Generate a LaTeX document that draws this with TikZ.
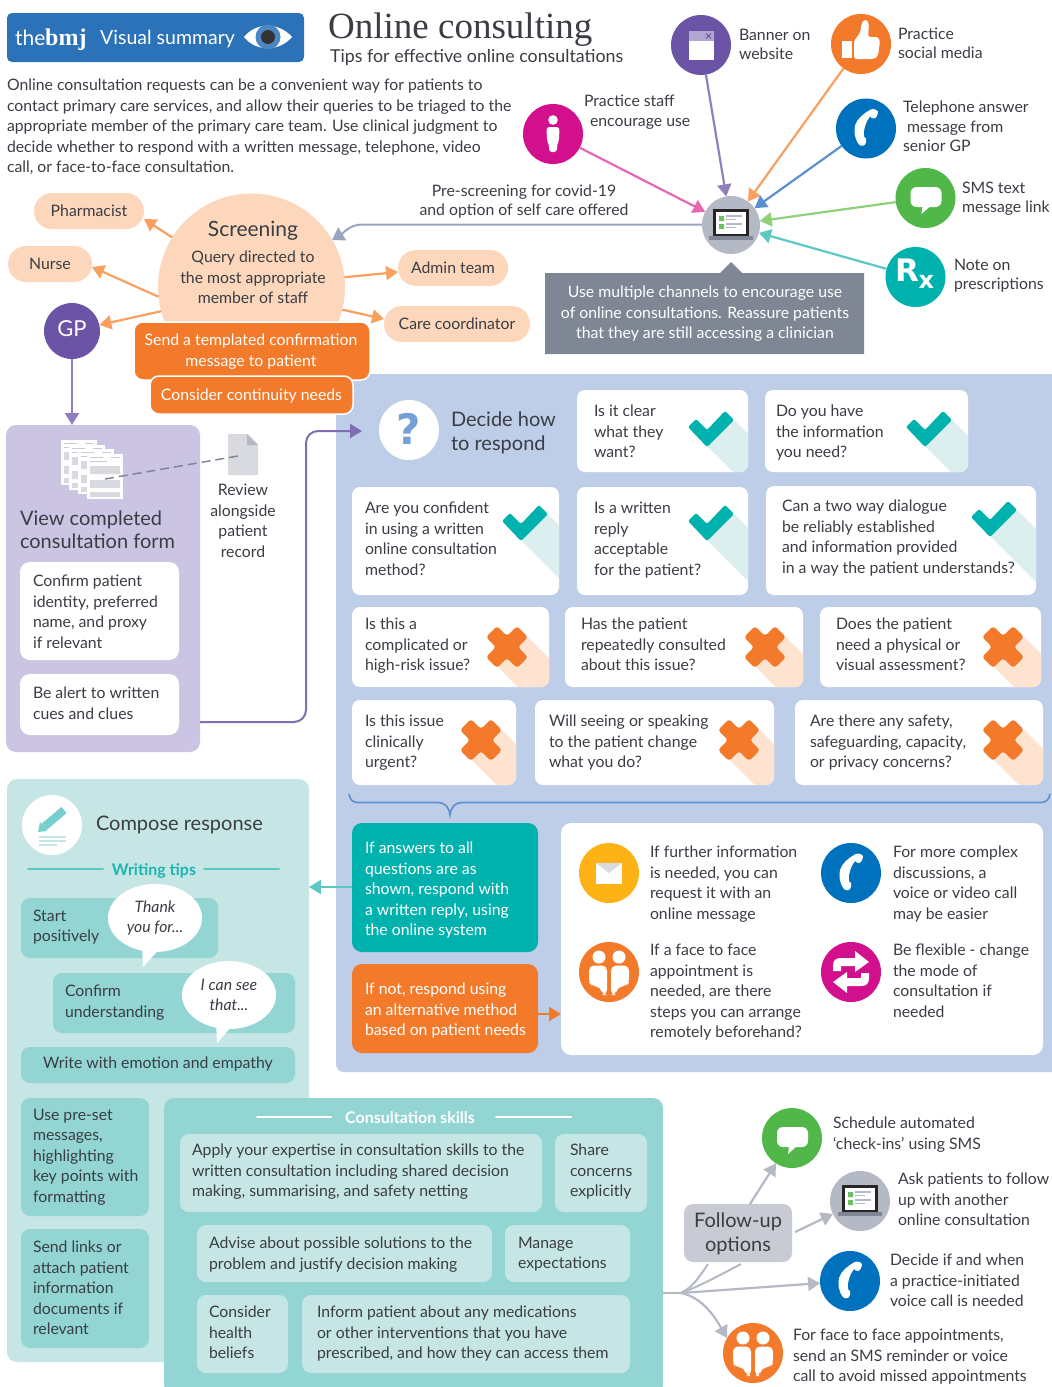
\documentclass[tikz,border=0pt]{standalone}
\usepackage{fontspec}
\setmainfont{Lato}
\newfontfamily\slab{Liberation Serif}
\newfontfamily\heavy{DejaVu Sans}
\usetikzlibrary{arrows.meta,shapes.geometric}
\definecolor{ink}{HTML}{3A3D44}
\definecolor{hdr}{HTML}{2B72B8}
\definecolor{peach}{HTML}{FDD7BB}
\definecolor{orng}{HTML}{F47A2B}
\definecolor{orngl}{HTML}{F9A05E}
\definecolor{purp}{HTML}{6B53A5}
\definecolor{purpl}{HTML}{8F7FBF}
\definecolor{purpb}{HTML}{CBC5E3}
\definecolor{magen}{HTML}{D20F8C}
\definecolor{pinkl}{HTML}{E668AE}
\definecolor{bluu}{HTML}{0071BC}
\definecolor{bluul}{HTML}{5B8FD0}
\definecolor{grn}{HTML}{50B748}
\definecolor{grnl}{HTML}{8FD07A}
\definecolor{teal2}{HTML}{00B2AE}
\definecolor{teall}{HTML}{5CC8C4}
\definecolor{tealm}{HTML}{92D5D3}
\definecolor{tealb}{HTML}{C6E6E5}
\definecolor{tealh}{HTML}{1CB5B0}
\definecolor{yell}{HTML}{FDB316}
\definecolor{panel}{HTML}{BECDE8}
\definecolor{grey1}{HTML}{B5B9C5}
\definecolor{grey2}{HTML}{7F8794}
\definecolor{grey3}{HTML}{C8CBD3}
\definecolor{grey4}{HTML}{D9DAE0}
\definecolor{slate}{HTML}{9AA5BF}
\definecolor{checkshadow}{HTML}{DCEFEE}
\definecolor{crossshadow}{HTML}{FDE3D0}
\tikzset{
 x=1pt,y=-1pt,
 tx/.style={inner sep=0pt,outer sep=0pt,align=left,anchor=north west,text=ink,
   font=\fontsize{15.8}{20.5}\selectfont,execute at begin node={\rule{0pt}{18pt}}},
 ctr/.style={align=center,anchor=north},
 wht/.style={text=white},
 big/.style={font=\fontsize{20}{24}\selectfont},
 dot/.style={circle,minimum size=60pt,inner sep=0pt,outer sep=0pt},
 bx/.style={rectangle,inner sep=0pt,outer sep=0pt},
 arr/.style={-{Triangle[length=12pt,width=14pt]},line width=2.2pt},
 ln/.style={line width=2pt,line cap=round},
 bub/.style={ellipse,fill=white,minimum width=94pt,minimum height=68pt,inner sep=0pt,align=center,
   text=ink,font=\fontsize{15.8}{20.5}\selectfont\itshape},
}
\newcommand\T[5]{\node[tx,#4] (#1) at (#2,{#3-11}) {#5};}
\newcommand\rbx[7]{\pgfmathsetmacro\bw{#4-#2}\pgfmathsetmacro\bh{#5-#3}%
 \node[bx,fill=#6,rounded corners=#7pt,minimum width=\bw pt,minimum height=\bh pt] (#1) at ({(#2+#4)/2},{(#3+#5)/2}) {};}
\newcommand\iconcheck[2]{\begin{scope}[shift={(#1,#2)}]\fill[teal2,rounded corners=2pt] (-23,-3) -- (-15,-11) -- (-4,0) -- (14,-19) -- (23,-10) -- (-4,17) -- cycle;\end{scope}}
\newcommand\iconcross[2]{\begin{scope}[shift={(#1,#2)}]\fill[orng,rounded corners=3pt] (-21,-10) -- (-10,-21) -- (0,-11) -- (10,-21) -- (21,-10) -- (11,0) -- (21,10) -- (10,21) -- (0,11) -- (-10,21) -- (-21,10) -- (-11,0) -- cycle;\end{scope}}
\newcommand\shadecheck[2]{\fill[checkshadow] (#1-4,#2+16) -- (#1+196,#2+216) -- (#1+223,#2+190) -- (#1+23,#2-10) -- cycle;}
\newcommand\shadecross[2]{\fill[crossshadow] (#1-9,#2+20) -- (#1+191,#2+220) -- (#1+221,#2+190) -- (#1+21,#2-10) -- cycle;}
\newcommand\qcard[8]{\rbx{#1}{#2}{#3}{#4}{#5}{white}{8}
 \begin{scope}\clip[rounded corners=8pt] (#2,#3) rectangle (#4,#5);\csname shade#8\endcsname{#6}{#7}\end{scope}
 \csname icon#8\endcsname{#6}{#7}}
\newcommand\iphone[2]{\begin{scope}[shift={(#1,#2)}]
 \fill[white] (3,-18) .. controls (5,-20) and (10,-20) .. (12,-17) .. controls (12,-14) and (10,-10) .. (8,-10) .. controls (6,-10) and (5,-11) .. (4,-12) .. controls (0,-7) and (-3,1) .. (-2,8) .. controls (0,9) and (1,11) .. (0,14) .. controls (-1,18) and (-5,18) .. (-7,16) .. controls (-12,10) and (-12,2) .. (-11,-3) .. controls (-9,-10) and (-2,-15) .. (3,-18) -- cycle;
 \end{scope}}
\newcommand\ipeople[2]{\begin{scope}[shift={(#1,#2)}]
 \fill[white] (-10,-15) circle (6.5) (10,-15) circle (6.5);
 \fill[white,rounded corners=5pt] (-20,-6.5) -- (-2,-6.5) -- (-2,23) -- (-7,23) -- (-8,15) -- (-18,14) -- (-20,10) -- cycle;
 \fill[white,rounded corners=5pt] (20,-6.5) -- (2,-6.5) -- (2,23) -- (7,23) -- (8,15) -- (18,14) -- (20,10) -- cycle;
 \end{scope}}
\newcommand\isms[2]{\begin{scope}[shift={(#1,#2)}]
 \fill[white,rounded corners=6pt] (-15,-11) rectangle (16,9);
 \fill[white] (-3,8) -- (-4,16) -- (5,8) -- cycle;
 \end{scope}}
\newcommand\ilaptop[2]{\begin{scope}[shift={(#1,#2)}]
 \fill[black!85] (-18,-16) rectangle (18,11);
 \fill[white] (-15,-13) rectangle (15,9);
 \fill[grey2] (-22,11) rectangle (22,15);
 \fill[grn!85!white] (-12,-9) rectangle (-7,-4) (-12,-1) rectangle (-7,4);
 \draw[grey1,line width=1.2pt] (-5,-9) -- (11,-9) (-5,-5.5) -- (5,-5.5) (-5,-1) -- (11,-1) (-5,2.5) -- (5,2.5);
 \end{scope}}
\newcommand\iswaparrow{\fill[white] (-18,-1) -- (-18,-6) .. controls (-18,-12) and (-15,-14) .. (-10,-14) -- (4,-14) -- (4,-21) -- (18,-10) -- (4,0) -- (4,-6) -- (-10,-6) -- (-10,-1) -- cycle;}
\begin{document}
\begin{tikzpicture}
\useasboundingbox (0,0) rectangle (1052,1387);
\fill[white] (0,0) rectangle (1052,1387);

% header
\rbx{hdrbox}{7}{13}{304}{62}{hdr}{5}
\node[inner sep=0pt,anchor=base west,text=white,font=\fontsize{21}{21}\selectfont] (hthe) at (15,45) {the};
\node[inner sep=0pt,anchor=base west,text=white,font=\slab\bfseries\fontsize{24}{24}\selectfont] (hbmj) at (45,45) {bmj};
\node[inner sep=0pt,anchor=base west,text=white,font=\fontsize{19.5}{20}\selectfont] (hvis) at (100,44) {Visual summary};
\fill[white] (244,37) .. controls (256,22) and (279,22) .. (292,37) .. controls (279,52) and (256,52) .. (244,37) -- cycle;
\fill[hdr!85!white] (268,37) circle (12.5);
\fill[black!80] (268,37) circle (7);
\node[inner sep=0pt,anchor=base west,text=ink,font=\slab\fontsize{37}{37}\selectfont] (title) at (328,38) {Online consulting};
\node[inner sep=0pt,anchor=base west,text=ink,font=\fontsize{17.8}{20}\selectfont] (subtitle) at (330,62) {Tips for effective online consultations};
\T{intro}{7}{90}{}{Online consultation requests can be a convenient way for patients to\\contact primary care services, and allow their queries to be triaged to the\\appropriate member of the primary care team. Use clinical judgment to\\decide whether to respond with a written message, telephone, video\\call, or face-to-face consultation.}

% panels
\rbx{decide}{336}{374}{1060}{1072}{panel}{8}
\rbx{view}{6}{425}{200}{752}{purpb}{10}
\rbx{compose}{7}{779}{309}{1362}{tealb}{10}
\rbx{skills}{164}{1098}{663}{1395}{tealm}{10}

% screening
\begin{scope}
\clip (140,180) rectangle (360,325);
\node[circle,fill=peach,minimum size=187pt,inner sep=0pt,outer sep=0pt] (screen) at (251.5,287) {};
\end{scope}
\T{tscr}{253}{229}{ctr,font=\fontsize{21}{24}\selectfont}{Screening}
\T{tscr2}{253}{262}{ctr}{Query directed to\\the most appropriate\\member of staff}
\rbx{ph}{34}{193}{144}{229}{peach}{18}
\T{tph}{89}{209}{ctr}{Pharmacist}
\rbx{nu}{8}{246}{92}{282}{peach}{18}
\T{tnu}{50}{262.5}{ctr}{Nurse}
\rbx{ad}{398}{250}{508}{286}{peach}{18}
\T{tad}{453}{266}{ctr}{Admin team}
\rbx{ca}{384}{306}{530}{342}{peach}{18}
\T{tca}{457}{322.5}{ctr}{Care coordinator}
\node[dot,fill=purp,minimum size=56pt] (gp) at (72,331) {};
\node[inner sep=0pt,text=white,font=\fontsize{22}{22}\selectfont] (tgp) at (72,329) {GP};
\draw[arr,orngl] (screen.148) -- ([yshift=-8pt]ph.east);
\draw[arr,orngl] (screen.186) -- ([yshift=-3pt]nu.east);
\draw[arr,orngl] (screen.195) -- (gp);
\draw[arr,orngl] (screen.6) -- ([yshift=-4pt]ad.west);
\draw[arr,orngl] (screen.-14) -- ([yshift=5pt]ca.west);
\draw[arr,purpl] (gp) -- (gp |- view.north);

\node[bx,fill=orng,draw=white,line width=1.5pt,rounded corners=9pt,minimum width=236pt,minimum height=58pt] (send) at (252,351) {};
\T{tsend}{251}{345}{ctr,wht}{Send a templated confirmation\\message to patient}
\node[bx,fill=orng,draw=white,line width=1.5pt,rounded corners=9pt,minimum width=203pt,minimum height=38pt] (cont) at (251.5,395) {};
\T{tcont}{251.5}{393}{ctr,wht}{Consider continuity needs}

% channels
\node[dot,minimum size=58pt,fill=grey1] (lap) at (731,225) {};
\draw[ln,slate,line cap=butt,-{Triangle[length=12pt,width=15pt]}] (lap.west |- 0,224.5) -- (362,224.5) .. controls (350,224.5) and (342,234) .. (332,240);
\ilaptop{731}{225}
\node[dot,fill=purp] (ban) at (701,45) {};
\fill[white] (688.5,31) rectangle (713.5,60);
\fill[purpl!70!white] (688.5,31) rectangle (713.5,41);
\draw[purp,line width=1pt] (706,33.5) -- (711,38.5) (711,33.5) -- (706,38.5);
\node[dot,fill=orng] (thu) at (861,44) {};
\begin{scope}[shift={(861,44)}]
 \fill[white] (-19,-3) rectangle (-9,14);
 \fill[white,rounded corners=2.5pt] (-7,-3) -- (-1,-11) -- (1,-22) -- (5,-25) -- (8,-20) -- (7,-7) -- (17,-7) -- (19,-3) -- (17,12) -- (13,15) -- (-7,15) -- cycle;
\end{scope}
\node[dot,fill=magen] (sta) at (553,134) {};
\begin{scope}[shift={(553,134)}]
 \fill[white] (0,-14) circle (4.8);
 \fill[white,rounded corners=3pt] (-6.5,-7) -- (6.5,-7) -- (6,7) -- (4,10) -- (4,18) -- (-4,18) -- (-4,10) -- (-6,7) -- cycle;
\end{scope}
\node[dot,fill=bluu] (pho) at (866,128.5) {};
\iphone{866}{128.5}
\node[dot,fill=grn] (sms) at (925.5,198) {};
\isms{925.5}{198}
\node[dot,fill=teal2] (rxc) at (915.5,277) {};
\node[inner sep=0pt,text=white,font=\heavy\bfseries\fontsize{31}{31}\selectfont] (rxt) at (915,274) {R\kern-1pt\raisebox{-7pt}{\fontsize{24}{24}\selectfont x}};
\draw[arr,purpl] (ban) -- (lap);
\draw[arr,orngl] (thu) -- (lap);
\draw[arr,pinkl] (sta) -- (lap);
\draw[arr,bluul] (pho) -- (lap);
\draw[arr,grnl] (sms) -- (lap);
\draw[arr,teall] (rxc) -- (lap);
\T{tpre}{524}{196}{ctr,font=\fontsize{15.8}{19}\selectfont}{Pre-screening for covid-19\\and option of self care offered}
\T{tban}{739}{40}{font=\fontsize{15.8}{19}\selectfont}{Banner on\\website}
\T{tthu}{898}{39}{font=\fontsize{15.8}{19}\selectfont}{Practice\\social media}
\T{tsta}{584}{106}{font=\fontsize{15.8}{20}\selectfont}{Practice staff\\\hspace*{6pt}encourage use}
\T{tpho}{903}{112}{font=\fontsize{15.8}{19.5}\selectfont}{Telephone answer\\\hspace*{4pt}message from\\senior GP}
\T{tsms}{962}{193}{font=\fontsize{15.8}{19}\selectfont}{SMS text\\message link}
\T{trx}{954}{270}{font=\fontsize{15.8}{19}\selectfont}{Note on\\prescriptions}
\fill[grey2] (545,273) -- (720,273) -- (731,262) -- (742,273) -- (864,273) -- (864,354) -- (545,354) -- cycle;
\T{tuse}{705}{297}{ctr,wht}{Use multiple channels to encourage use\\of online consultations. Reassure patients\\that they are still accessing a clinician}

% view
\foreach \dx/\dy in {0/0,8/5,17/9,26/14}{
 \begin{scope}[shift={(61+\dx,440+\dy)}]
 \fill[white] (0,0) rectangle (36,45);
 \fill[grey4] (3,12) rectangle (33,20) (3,26) rectangle (33,34) (3,38) rectangle (33,43);
 \draw[grey3,line width=1pt] (3,3) -- (16,3) (24,3) -- (33,3) (3,7) -- (20,7);
 \end{scope}}
\T{tview}{20}{522}{font=\fontsize{20}{23}\selectfont}{View completed\\consultation form}
\rbx{v1}{20}{562}{179}{660}{white}{10}
\T{tv1}{33}{586}{}{Confirm patient\\identity, preferred\\name, and proxy\\if relevant}
\rbx{v2}{20}{674}{179}{735}{white}{10}
\T{tv2}{33}{698}{}{Be alert to written\\cues and clues}
\fill[grey4] (228,434) -- (248,434) -- (258,444) -- (258,475) -- (228,475) -- cycle;
\fill[grey1] (247,434) -- (258,445) -- (247,445) -- cycle;
\coordinate (fm) at (105,479);
\coordinate (rc) at (238,456);
\draw[grey2,line width=1.5pt,dash pattern=on 9pt off 5pt] (fm) -- (rc);
\T{trev}{243}{495}{ctr}{Review\\alongside\\patient\\record}
\draw[line width=2pt,purp!85!white,rounded corners=12pt,-{Triangle[length=12pt,width=14pt]}] (view.east |- 0,722) -- (306,722) -- (306,431) -- (362,431);

% decide
\node[dot,fill=white] (qc) at (409,430) {};
\node[inner sep=0pt,text=bluul!85!white,font=\heavy\bfseries\fontsize{42}{42}\selectfont] (qm) at (409,429) {?};
\T{tdec}{451}{423}{big}{Decide how\\to respond}
\qcard{c1}{577}{390}{748}{472}{711}{430}{check}
\T{tc1}{594}{416}{}{Is it clear\\what they\\want?}
\qcard{c2}{765}{390}{968}{472}{929}{430}{check}
\T{tc2}{776}{416}{}{Do you have\\the information\\you need?}
\qcard{c3}{352}{487}{559}{595}{525}{524}{check}
\T{tc3}{365}{513}{}{Are you confident\\in using a written\\online consultation\\method?}
\qcard{c4}{577}{487}{748}{595}{711}{524}{check}
\T{tc4}{594}{513}{}{Is a written\\reply\\acceptable\\for the patient?}
\qcard{c5}{766}{486}{1036}{595}{994}{520}{check}
\T{tc5}{782}{511}{}{Can a two way dialogue\\be reliably established\\and information provided\\in a way the patient understands?}
\qcard{c6}{352}{607}{549}{687}{507}{647}{cross}
\T{tc6}{365}{629}{}{Is this a\\complicated or\\high-risk issue?}
\qcard{c7}{565}{607}{803}{687}{765}{647}{cross}
\T{tc7}{581}{629}{}{Has the patient\\repeatedly consulted\\about this issue?}
\qcard{c8}{820}{607}{1041}{687}{1003}{647}{cross}
\T{tc8}{836}{629}{}{Does the patient\\need a physical or\\visual assessment?}
\qcard{c9}{352}{700}{516}{785}{481}{740}{cross}
\T{tc9}{365}{726}{}{Is this issue\\clinically\\urgent?}
\qcard{c10}{535}{700}{774}{785}{739}{740}{cross}
\T{tc10}{549}{726}{}{Will seeing or speaking\\to the patient change\\what you do?}
\qcard{c11}{795}{700}{1043}{785}{1003}{740}{cross}
\T{tc11}{810}{726}{}{Are there any safety,\\safeguarding, capacity,\\or privacy concerns?}
\draw[bluul,line width=1.6pt] (349,794) .. controls (350,800) and (353,802.5) .. (358,802.5) -- (438,802.5) .. controls (445,802.5) and (449,807) .. (450,815) .. controls (451,807) and (455,802.5) .. (462,802.5) -- (1040,802.5) .. controls (1046,802.5) and (1049,800) .. (1050,794);

\rbx{ta}{352}{823}{538}{952}{teal2}{10}
\T{tta}{365}{853}{wht}{If answers to all\\questions are as\\shown, respond with\\a written reply, using\\the online system}
\rbx{ob}{352}{964}{538}{1053}{orng}{10}
\T{tob}{365}{994}{wht}{If not, respond using\\an alternative method\\based on patient needs}
\rbx{wp}{561}{823}{1043}{1055}{white}{10}
\draw[arr,orng] (ob.east |- 0,1014) -- (wp.west |- 0,1014);
\draw[arr,teall] (ta.west |- 0,887) -- (compose.east |- 0,887);
\node[dot,fill=yell] (ye) at (609,873) {};
\fill[white] (596,863) rectangle (622,884);
\fill[grey4] (596,863) -- (622,863) -- (609,873) -- cycle;
\node[dot,fill=bluu] (pb) at (851,873) {};
\iphone{851}{873}
\node[dot,fill=orng] (pe) at (609,972) {};
\ipeople{609}{972}
\node[dot,fill=magen] (sw) at (851,972) {};
\begin{scope}[shift={(851,972)}]
 \iswaparrow
 \begin{scope}[rotate=180]\iswaparrow\end{scope}
\end{scope}
\T{tw1}{650}{857}{}{If further information\\is needed, you can\\request it with an\\online message}
\T{tw2}{893}{857}{}{For more complex\\discussions, a\\voice or video call\\may be easier}
\T{tw3}{650}{955}{}{If a face to face\\appointment is\\needed, are there\\steps you can arrange\\remotely beforehand?}
\T{tw4}{893}{955}{}{Be flexible - change\\the mode of\\consultation if\\needed}

% compose
\node[dot,fill=white] (pc) at (52,825) {};
\begin{scope}[shift={(52,825)}]
 \draw[teall!85!white,line width=8pt] (-8,2) -- (12,-15);
 \fill[teall!85!white] (-14,7) -- (-12,-3) -- (-5,6) -- cycle;
 \draw[tealb,line width=1.5pt] (-13,12) -- (14,12) (-13,16) -- (14,16) (-13,20) -- (5,20);
\end{scope}
\T{tcomp}{96}{823}{big}{Compose response}
\T{twt}{154}{868.5}{ctr,text=tealh,font=\bfseries\fontsize{16}{20}\selectfont}{Writing tips}
\coordinate (wa) at (28,869); \coordinate (wb) at (103,869); \coordinate (wc) at (204,869); \coordinate (wd) at (279,869);
\draw[ln,teall] (wa) -- (wb) (wc) -- (wd);
\rbx{b1}{21}{898}{218}{958}{tealm}{9}
\T{tb1}{33}{921}{}{Start\\positively}
\fill[white] (142,945) -- (143,967) -- (163,945) -- cycle;
\node[bub] (bu1) at (155,918) {Thank\\you for...};
\rbx{b2}{53}{973}{295}{1033}{tealm}{9}
\T{tb2}{65}{996}{}{Confirm\\understanding}
\fill[white] (216,1020) -- (217,1043) -- (237,1020) -- cycle;
\node[bub] (bu2) at (229,995) {I can see\\that...};
\rbx{b3}{21}{1047}{295}{1083}{tealm}{9}
\T{tb3}{158}{1061}{ctr}{Write with emotion and empathy}
\rbx{b4}{21}{1098}{149}{1216}{tealm}{9}
\T{tb4}{33}{1120}{}{Use pre-set\\messages,\\highlighting\\key points with\\formatting}
\rbx{b5}{21}{1229}{149}{1348}{tealm}{9}
\T{tb5}{33}{1252}{}{Send links or\\attach patient\\information\\documents if\\relevant}

% skills
\T{tsk}{410}{1116.5}{ctr,wht,font=\bfseries\fontsize{16}{20}\selectfont}{Consultation skills}
\coordinate (sa) at (257,1117); \coordinate (sb) at (331,1117); \coordinate (sc) at (496,1117); \coordinate (sd) at (571,1117);
\draw[ln,white] (sa) -- (sb) (sc) -- (sd);
\rbx{s1}{180}{1134}{542}{1212}{tealb}{9}
\T{ts1}{192}{1155}{}{Apply your expertise in consultation skills to the\\written consultation including shared decision\\making, summarising, and safety netting}
\rbx{s2}{555}{1134}{647}{1212}{tealb}{9}
\T{ts2}{570}{1155}{}{Share\\concerns\\explicitly}
\rbx{s3}{197}{1225}{492}{1282}{tealb}{9}
\T{ts3}{209}{1248}{}{Advise about possible solutions to the\\problem and justify decision making}
\rbx{s4}{505}{1225}{630}{1282}{tealb}{9}
\T{ts4}{518}{1248}{}{Manage\\expectations}
\rbx{s5}{197}{1295}{288}{1373}{tealb}{9}
\T{ts5}{209}{1317}{}{Consider\\health\\beliefs}
\rbx{s6}{302}{1295}{630}{1373}{tealb}{9}
\T{ts6}{317}{1317}{}{Inform patient about any medications\\or other interventions that you have\\prescribed, and how they can access them}

% follow-up
\rbx{fu}{684}{1204}{792}{1262}{grey3}{9}
\T{tfu}{738}{1223.5}{ctr,big}{Follow-up\\options}
\node[dot,fill=grn] (f1) at (792,1138) {};
\isms{792}{1138}
\node[dot,fill=grey1] (f2) at (860,1201) {};
\ilaptop{860}{1201}
\node[dot,fill=bluu] (f3) at (850,1281) {};
\iphone{850}{1281}
\node[dot,fill=orng] (f4) at (753,1353) {};
\ipeople{753}{1353}
\coordinate (hub) at (681,1293);
\coordinate (fb1) at (708,1264);
\coordinate (fb2) at (741,1264);
\draw[grey1,line width=2pt] (skills.east |- 0,1293) -- (hub);
\draw[grey1,line width=2pt] (hub) .. controls (693,1287) and (700,1276) .. (fb1);
\draw[grey1,line width=2pt] (hub) .. controls (700,1286) and (720,1275) .. (fb2);
\draw[arr,grey1] (hub) -- (f3);
\draw[arr,grey1] (hub) .. controls (700,1297) and (712,1312) .. (f4.150);
\draw[arr,grey1] ([xshift=12pt]fu.north) -- (f1);
\draw[arr,grey1] ([yshift=-28pt]fu.north east) ++(3,0) -- (f2);
\T{tf1}{833}{1128}{}{Schedule automated\\‘check-ins’ using SMS}
\T{tf2}{898}{1184}{}{Ask patients to follow\\up with another\\online consultation}
\T{tf3}{890}{1265}{}{Decide if and when\\a practice-initiated\\voice call is needed}
\T{tf4}{793}{1340}{}{For face to face appointments,\\send an SMS reminder or voice\\call to avoid missed appointments}
\end{tikzpicture}
\end{document}
